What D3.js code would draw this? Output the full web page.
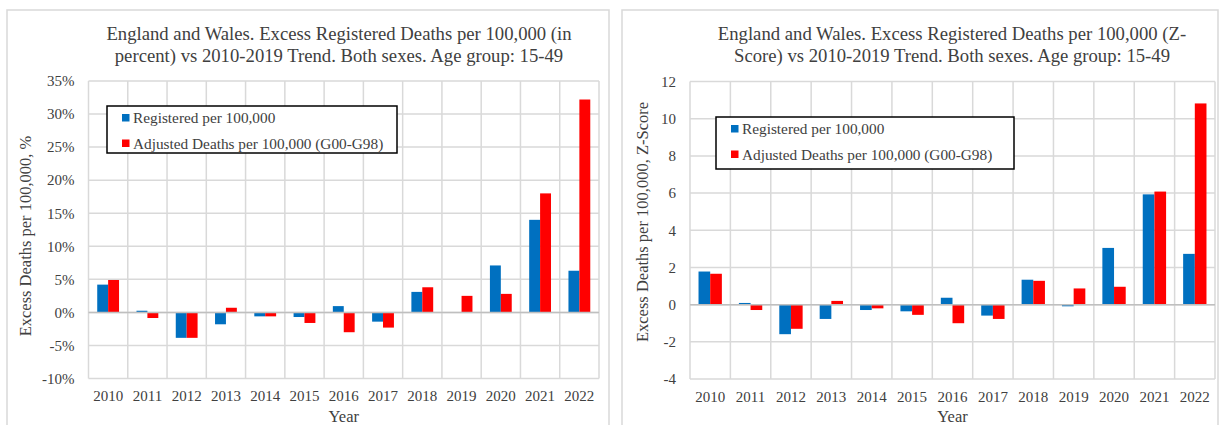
<!DOCTYPE html>
<html>
<head>
<meta charset="utf-8">
<script src="https://cdn.jsdelivr.net/npm/d3@7"></script>
<style>
  html, body { margin: 0; padding: 0; background: #fff; }
  svg { display: block; }
  text { font-family: "Liberation Serif", "Times New Roman", serif; fill: #404040; }
</style>
</head>
<body>
<svg id="chart" width="1221" height="425"></svg>
<script>
// Years shown on both charts
const years = ["2010","2011","2012","2013","2014","2015","2016","2017","2018","2019","2020","2021","2022"];

// Excess deaths in percent vs 2010-2019 trend
const pctRegistered = [4.2, 0.25, -3.85, -1.8, -0.6, -0.7, 0.95, -1.4, 3.1, 0.0, 7.1, 14.0, 6.3];
const pctAdjusted   = [4.9, -0.85, -3.85, 0.7, -0.6, -1.6, -3.0, -2.3, 3.8, 2.5, 2.8, 18.0, 32.2];

// Excess deaths as Z-score vs 2010-2019 trend
const zRegistered = [1.78, 0.09, -1.59, -0.77, -0.29, -0.36, 0.37, -0.59, 1.34, -0.09, 3.05, 5.93, 2.73];
const zAdjusted   = [1.66, -0.29, -1.3, 0.2, -0.2, -0.55, -1.0, -0.77, 1.28, 0.87, 0.96, 6.08, 10.82];

// Axis ticks
const pctTicks = [-10, -5, 0, 5, 10, 15, 20, 25, 30, 35];
const zTicks = [-4, -2, 0, 2, 4, 6, 8, 10, 12];

const seriesNames = ["Registered per 100,000", "Adjusted Deaths per 100,000 (G00-G98)"];
const seriesColors = ["#0070C0", "#FF0000"];

const svg = d3.select("#chart");

function drawPanel(cfg) {
  const g = svg.append("g");

  // chart frame
  g.append("rect")
    .attr("x", cfg.frame[0]).attr("y", cfg.frame[1])
    .attr("width", cfg.frame[2]).attr("height", cfg.frame[3])
    .attr("fill", "#fff").attr("stroke", "#d9d9d9").attr("stroke-width", 1.5);

  // title
  const title = g.append("text")
    .attr("x", cfg.titleX).attr("y", 40)
    .attr("text-anchor", "middle")
    .style("font-size", "18.7px");
  cfg.title.forEach((line, i) => {
    title.append("tspan").attr("x", cfg.titleX).attr("dy", i === 0 ? 0 : 22.4).text(line);
  });

  const x = d3.scaleBand().domain(years).range([cfg.plot.left, cfg.plot.right]).padding(0);
  const y = d3.scaleLinear().domain(cfg.domain).range([cfg.plot.bottom, cfg.plot.top]);
  const inner = d3.scaleBand().domain([0, 1])
    .range([0, x.bandwidth()]).paddingOuter(cfg.outerPad).paddingInner(0);

  // horizontal gridlines
  g.append("g").selectAll("line").data(cfg.ticks).join("line")
    .attr("x1", cfg.plot.left).attr("x2", cfg.plot.right)
    .attr("y1", d => y(d)).attr("y2", d => y(d))
    .attr("stroke", "#d9d9d9").attr("stroke-width", 1.5);

  // vertical gridlines at category boundaries
  const bounds = years.map(d => x(d)).concat([x(years[years.length - 1]) + x.bandwidth()]);
  g.append("g").selectAll("line").data(bounds).join("line")
    .attr("x1", d => d).attr("x2", d => d)
    .attr("y1", cfg.plot.top).attr("y2", cfg.plot.bottom)
    .attr("stroke", "#d9d9d9").attr("stroke-width", 1.5);

  // bars
  [cfg.s1, cfg.s2].forEach((vals, si) => {
    g.append("g").selectAll("rect").data(vals).join("rect")
      .attr("x", (d, i) => x(years[i]) + inner(si))
      .attr("width", inner.bandwidth())
      .attr("y", d => y(Math.max(0, d)))
      .attr("height", d => Math.abs(y(d) - y(0)))
      .attr("fill", seriesColors[si]);
  });

  // zero line
  g.append("line")
    .attr("x1", cfg.plot.left).attr("x2", cfg.plot.right)
    .attr("y1", y(0)).attr("y2", y(0))
    .attr("stroke", "#bfbfbf").attr("stroke-width", 1.5);

  // y axis labels
  const yAxis = d3.axisLeft(y).tickValues(cfg.ticks).tickSize(0).tickPadding(14)
    .tickFormat(cfg.fmt);
  const ya = g.append("g").attr("transform", `translate(${cfg.plot.left},0)`).call(yAxis);
  ya.select(".domain").remove();
  ya.selectAll("text").style("font-size", "15px").style("font-family", "Liberation Serif").attr("fill", "#404040");

  // x axis labels
  const xAxis = d3.axisBottom(x).tickSize(0).tickPadding(12);
  const xa = g.append("g").attr("transform", `translate(0,${cfg.plot.bottom})`).call(xAxis);
  xa.select(".domain").remove();
  xa.selectAll("text").style("font-size", "15px").style("font-family", "Liberation Serif").attr("fill", "#404040");

  // axis titles
  g.append("text")
    .attr("x", (cfg.plot.left + cfg.plot.right) / 2).attr("y", 422)
    .attr("text-anchor", "middle").style("font-size", "16.5px").text("Year");
  g.append("text")
    .attr("transform", `translate(${cfg.yTitleX},${cfg.yTitleY}) rotate(-90)`)
    .attr("text-anchor", "middle").attr("dominant-baseline", "central")
    .style("font-size", "16.5px").text(cfg.yTitle);

  // legend
  const lg = g.append("g");
  lg.append("rect")
    .attr("x", cfg.legend[0]).attr("y", cfg.legend[1])
    .attr("width", cfg.legend[2]).attr("height", cfg.legend[3])
    .attr("fill", "#fff").attr("stroke", "#000").attr("stroke-width", 1.5);
  seriesNames.forEach((name, i) => {
    const cy = cfg.legend[1] + 11.5 + i * 25.5;
    lg.append("rect")
      .attr("x", cfg.legend[0] + 15).attr("y", cy - 3.5)
      .attr("width", 7.5).attr("height", 7.5).attr("fill", seriesColors[i]);
    lg.append("text")
      .attr("x", cfg.legend[0] + 26).attr("y", cy)
      .attr("dominant-baseline", "central")
      .style("font-size", "15.3px").attr("fill", "#000").text(name);
  });
}

drawPanel({
  frame: [7, 10, 602, 430],
  titleX: 339,
  title: ["England and Wales. Excess Registered Deaths per 100,000 (in",
          "percent) vs 2010-2019 Trend. Both sexes. Age group: 15-49"],
  plot: { left: 88.5, right: 599, top: 81, bottom: 378.5 },
  domain: [-10, 35],
  ticks: pctTicks,
  fmt: d => d + "%",
  outerPad: 0.8,
  s1: pctRegistered, s2: pctAdjusted,
  yTitle: "Excess Deaths per 100,000, %",
  yTitleX: 25, yTitleY: 236,
  legend: [107, 106, 290, 47]
});

drawPanel({
  frame: [622, 10, 596, 430],
  titleX: 952,
  title: ["England and Wales. Excess Registered Deaths per 100,000 (Z-",
          "Score) vs 2010-2019 Trend. Both sexes. Age group: 15-49"],
  plot: { left: 690, right: 1215, top: 81.5, bottom: 379 },
  domain: [-4, 12],
  ticks: zTicks,
  fmt: d => d,
  outerPad: 0.73,
  s1: zRegistered, s2: zAdjusted,
  yTitle: "Excess Deaths per 100,000, Z-Score",
  yTitleX: 642, yTitleY: 222,
  legend: [716, 117, 298, 52]
});
</script>
</body>
</html>
